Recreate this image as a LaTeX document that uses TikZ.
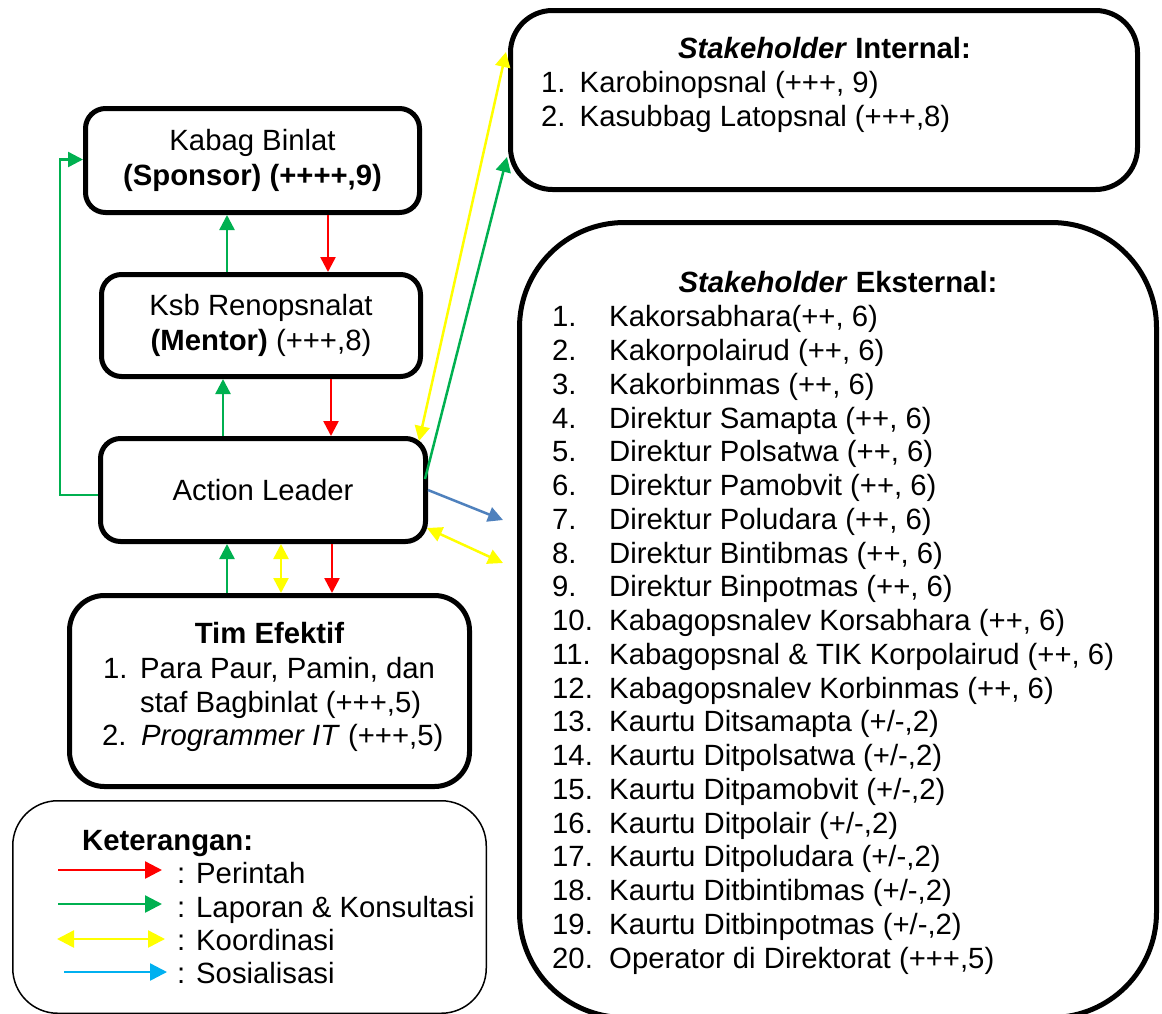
\documentclass[tikz,border=0pt]{standalone}
\usepackage{fontspec}
\setmainfont{Liberation Sans}
\usetikzlibrary{arrows.meta}
\definecolor{cred}{HTML}{FF0000}
\definecolor{cgreen}{HTML}{00B050}
\definecolor{cyellow}{HTML}{FFFF00}
\definecolor{cblue}{HTML}{4F81BD}
\definecolor{ccyan}{HTML}{00B0F0}
\begin{document}
\begin{tikzpicture}[x=1pt,y=-1pt,
  txt/.style={font=\fontsize{29.3}{33.7}\selectfont, inner sep=0pt, anchor=base west},
  ctxt/.style={font=\fontsize{29.3}{33.7}\selectfont, inner sep=0pt, anchor=base},
  box/.style={draw=black, line width=5pt, rounded corners=20pt, inner sep=0pt, align=center, font=\fontsize{29.3}{35}\selectfont},
  tip/.tip={Triangle[length=15pt,width=15pt]},
  conn/.style={line width=2.5pt, -tip},
  conn2/.style={line width=2.5pt, tip-tip},
  lconn/.style={line width=2.5pt, -{Triangle[length=17pt,width=17pt]}},
  lconn2/.style={line width=2.5pt, {Triangle[length=17pt,width=17pt]}-{Triangle[length=17pt,width=17pt]}}
]
\useasboundingbox (0,0) rectangle (1162,1013);

% boxes
\node[box, minimum width=334pt, minimum height=104pt] (Kabag) at (252.5,160.5)
  {Kabag Binlat\\\textbf{(Sponsor) (++++,9)}};
\node[box, minimum width=319pt, minimum height=102pt] (Ksb) at (261,325.5)
  {Ksb Renopsnalat\\\textbf{(Mentor)} (+++,8)};
\node[box, minimum width=325pt, minimum height=103pt] (AL) at (263,490)
  {Action Leader};
\node[box, rounded corners=35pt, minimum width=400pt, minimum height=191pt] (Tim) at (269.5,691) {};
\node[box, rounded corners=42pt, minimum width=627pt, minimum height=179pt] (Int) at (824,100) {};
\node[box, rounded corners=105pt, minimum width=637pt, minimum height=795pt] (Ext) at (838,620) {};
\node[box, line width=1.5pt, rounded corners=45pt, minimum width=473.5pt, minimum height=212.5pt] (Leg) at (249.5,907) {};

% Tim Efektif text
\node[ctxt] (timT) at (269.5,643) {\textbf{Tim Efektif}};
\node[txt] (tim1n) at (103,678) {1.};
\node[txt] (tim1a) at (140,678) {Para Paur, Pamin, dan};
\node[txt] (tim1b) at (140,712) {staf Bagbinlat (+++,5)};
\node[txt] (tim2n) at (102,745) {2.};
\node[txt] (tim2a) at (141,745) {\textit{Programmer IT} (+++,5)};

% Stakeholder Internal text
\node[ctxt] (intT) at (824.5,58) {\textbf{\textit{Stakeholder} Internal:}};
\node[txt] (int1n) at (541,92.5) {1.};
\node[txt] (int1a) at (579.5,92.5) {Karobinopsnal (+++, 9)};
\node[txt] (int2n) at (541,126) {2.};
\node[txt] (int2a) at (579.5,126) {Kasubbag Latopsnal (+++,8)};

% Stakeholder Eksternal text
\node[ctxt] (extT) at (838,292) {\textbf{\textit{Stakeholder} Eksternal:}};
\foreach \i/\t in {
  1/{Kakorsabhara(++, 6)},
  2/{Kakorpolairud (++, 6)},
  3/{Kakorbinmas (++, 6)},
  4/{Direktur Samapta (++, 6)},
  5/{Direktur Polsatwa (++, 6)},
  6/{Direktur Pamobvit (++, 6)},
  7/{Direktur Poludara (++, 6)},
  8/{Direktur Bintibmas (++, 6)},
  9/{Direktur Binpotmas (++, 6)},
  10/{Kabagopsnalev Korsabhara (++, 6)},
  11/{Kabagopsnal \& TIK Korpolairud (++, 6)},
  12/{Kabagopsnalev Korbinmas (++, 6)},
  13/{Kaurtu Ditsamapta (+/-,2)},
  14/{Kaurtu Ditpolsatwa (+/-,2)},
  15/{Kaurtu Ditpamobvit (+/-,2)},
  16/{Kaurtu Ditpolair (+/-,2)},
  17/{Kaurtu Ditpoludara (+/-,2)},
  18/{Kaurtu Ditbintibmas (+/-,2)},
  19/{Kaurtu Ditbinpotmas (+/-,2)},
  20/{Operator di Direktorat (+++,5)}} {
  \node[txt] (ext\i n) at (552,{326.75+33.75*(\i-1)}) {\i.};
  \node[txt] (ext\i a) at (609,{326.75+33.75*(\i-1)}) {\t};
}

% Legend text
\node[txt] (lga) at (82,850) {\textbf{Keterangan:}};
\node[txt] (lgp) at (177,883) {: Perintah};
\node[txt] (lgl) at (177,917) {: Laporan \& Konsultasi};
\node[txt] (lgk) at (177,950) {: Koordinasi};
\node[txt] (lgs) at (177,983) {: Sosialisasi};

% legend arrows
\coordinate (lr1) at (58,870);  \coordinate (lr2) at (162,870);
\coordinate (lg1) at (58,904);  \coordinate (lg2) at (162,904);
\coordinate (ly1) at (57,939);  \coordinate (ly2) at (165,939);
\coordinate (lb1) at (64,972);  \coordinate (lb2) at (167,972);
\draw[lconn, cred] (lr1) -- (lr2);
\draw[lconn, cgreen] (lg1) -- (lg2);
\draw[lconn2, cyellow] (ly1) -- (ly2);
\draw[lconn, ccyan] (lb1) -- (lb2);

% x guides for vertical connectors
\coordinate (gA) at (227,0);
\coordinate (rA) at (328,0);
\coordinate (gB) at (223,0);
\coordinate (rB) at (331,0);
\coordinate (gC) at (227,0);
\coordinate (yA) at (281,0);
\coordinate (rC) at (332,0);
\coordinate (gL) at (60,0);

\draw[conn, cgreen] (Ksb.north -| gA) -- (Kabag.south -| gA);
\draw[conn, cred] (Kabag.south -| rA) -- (Ksb.north -| rA);
\draw[conn, cgreen] (AL.north -| gB) -- (Ksb.south -| gB);
\draw[conn, cred] (Ksb.south -| rB) -- (AL.north -| rB);
\draw[conn, cgreen] (Tim.north -| gC) -- (AL.south -| gC);
\draw[conn2, cyellow] (AL.south -| yA) -- (Tim.north -| yA);
\draw[conn, cred] (AL.south -| rC) -- (Tim.north -| rC);
\draw[conn, cgreen] ([yshift=-5pt]AL.west) -- ([yshift=-5pt]AL.west -| gL) |- ([yshift=1pt]Kabag.west);

% connectors to stakeholders
\draw[conn2, cyellow] ([shift={(-9,5)}]AL.north east) -- ([shift={(-2,44)}]Int.north west);
\draw[conn, cgreen] ([shift={(-3,-11)}]AL.east) -- ([shift={(-1,-35)}]Int.south west);
\coordinate (bT) at (503,520);
\coordinate (yT) at (503,563);
\draw[conn, cblue] (AL.east) -- (bT);
\draw[conn2, cyellow] ([shift={(-1,38)}]AL.east) -- (yT);
\end{tikzpicture}
\end{document}
